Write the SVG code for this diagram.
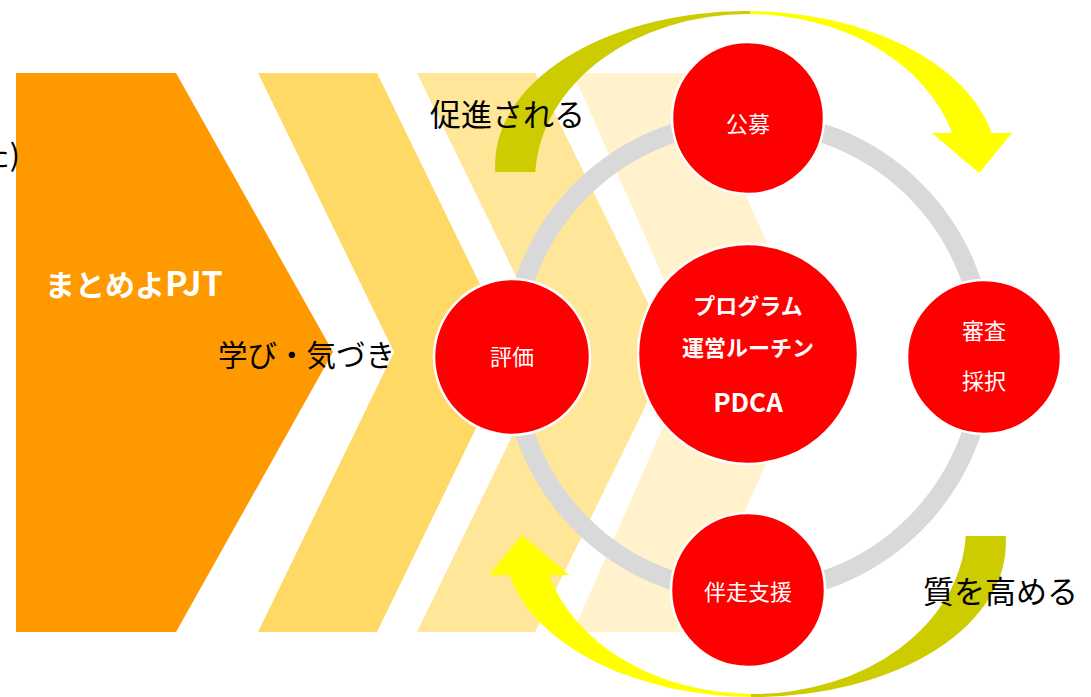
<svg xmlns="http://www.w3.org/2000/svg" width="1091" height="697" viewBox="0 0 1091 697">
<defs>
<style>
.jp{font-family:"Noto Sans CJK JP","Noto Sans",sans-serif}
.blk{fill:#000;font-size:31px}
.wt{fill:#fff;font-size:22px;text-anchor:middle}
.wb{fill:#fff;font-weight:bold}
.node{fill:#FF0000;stroke:#fff;stroke-width:2.5}
</style>
<linearGradient id="arrowGrad" gradientUnits="userSpaceOnUse" x1="495" y1="0" x2="1012" y2="0">
<stop offset="0" stop-color="#CCCC00"/>
<stop offset="0.493" stop-color="#CCCC00"/>
<stop offset="0.493" stop-color="#FFFF00"/>
<stop offset="1" stop-color="#FFFF00"/>
</linearGradient>
<path id="circArrow" d="M 495.3 172 A 251 154 0 0 1 746 11 A 251 154 0 0 1 991.5 133 L 1012 133 L 979 173 L 932 133 L 952.3 133 A 213 166 0 0 0 748 14 A 213 166 0 0 0 535.3 172 Z" fill="url(#arrowGrad)"/>
</defs>
<rect width="1091" height="697" fill="#fff"/>

<g id="chevrons">
<polygon id="chev4" points="573,73 692,73 815,352 692,632 573,632 696,352" fill="#FFF2CC"/>
<polygon id="chev3" points="417,73 535,73 672,352 535,632 417,632 553,352" fill="#FFE699"/>
<polygon id="chev2" points="258,73 377,73 513,352 377,632 258,632 394,352" fill="#FFD966"/>
<polygon id="chev1" points="16,73 176,73 333,352 176,632 16,632" fill="#FF9900"/>
</g>

<g id="connectors">
<use href="#circArrow"/>
<use href="#circArrow" transform="rotate(180 750.5 354)"/>
<circle cx="748" cy="357" r="236" fill="none" stroke="#D9D9D9" stroke-width="19"/>
</g>

<g id="node-koubo">
<circle class="node" cx="748" cy="118" r="76"/>
<text class="jp wt" x="748" y="132">公募</text>
</g>
<g id="node-shinsa">
<circle class="node" cx="984" cy="357" r="77"/>
<text class="jp wt" x="984" y="339">審査</text>
<text class="jp wt" x="984" y="389">採択</text>
</g>
<g id="node-bansou">
<circle class="node" cx="748" cy="590" r="77"/>
<text class="jp wt" x="748" y="600">伴走支援</text>
</g>
<g id="node-hyouka">
<circle class="node" cx="512" cy="357" r="78"/>
<text class="jp wt" x="512" y="365">評価</text>
</g>
<g id="node-pdca">
<circle class="node" cx="748" cy="354" r="110"/>
<text class="jp wb" x="748" y="314" font-size="22" text-anchor="middle">プログラム</text>
<text class="jp wb" x="748" y="356" font-size="22" text-anchor="middle">運営ルーチン</text>
<text class="jp wb" x="748" y="412" font-size="26" text-anchor="middle">PDCA</text>
</g>

<g id="labels">
<text class="jp wb" x="45" y="296" font-size="30">まとめよ<tspan font-size="34">PJT</tspan></text>
<text class="jp blk" x="218" y="366" font-size="29.5" style="font-size:29.5px">学び・気づき</text>
<text class="jp blk" x="430" y="126">促進される</text>
<text class="jp blk" x="923" y="603">質を高める</text>
<text class="jp blk" x="20" y="166" text-anchor="end" style="font-size:30px">た)</text>
</g>
</svg>
